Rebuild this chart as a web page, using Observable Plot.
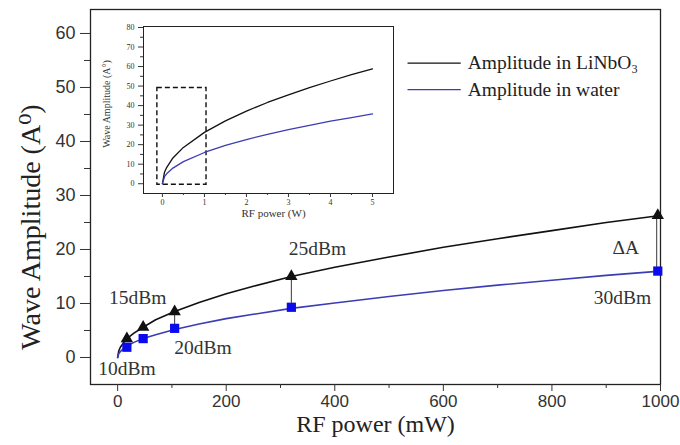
<!DOCTYPE html>
<html><head><meta charset="utf-8">
<script src="https://cdn.jsdelivr.net/npm/d3@7"></script>
<script src="https://cdn.jsdelivr.net/npm/@observablehq/plot@0.6"></script>
<style>
body{margin:0;background:#fff}
#wrap{position:relative;width:680px;height:445px}
#inset{position:absolute;left:95px;top:20px}
</style>
</head><body>
<div id="wrap"><div id="main"></div><div id="inset"></div></div>
<script>
// ---- data ----
const curvePowerMW = [0, 2, 5, 10, 17, 30, 47, 70, 105, 150, 200, 250, 320, 400, 500, 600, 700, 800, 900, 1000];
const curveLiNbO3  = [0, 1.2, 1.9, 2.6, 3.5, 4.5, 5.6, 7.0, 8.5, 10.2, 11.8, 13.2, 15.0, 16.7, 18.6, 20.4, 22.0, 23.5, 25.0, 26.3];
const curveWater   = [0, 0.7, 1.1, 1.6, 2.1, 2.8, 3.5, 4.2, 5.2, 6.2, 7.2, 8.0, 9.1, 10.1, 11.3, 12.4, 13.4, 14.3, 15.2, 16.0];

const markerPowerMW = [17, 47, 105, 320, 995];
const markerLiNbO3  = [3.5, 5.6, 8.5, 15.0, 26.3];
const markerWater   = [1.9, 3.5, 5.4, 9.3, 16.0];

const insetPowerW  = [0, 0.05, 0.1, 0.25, 0.5, 1, 1.5, 2, 2.5, 3, 3.5, 4, 4.5, 5];
const insetLiNbO3  = [0, 5.9, 8.3, 13.2, 18.6, 26.3, 32.2, 37.2, 41.6, 45.5, 49.2, 52.6, 55.8, 58.8];
const insetWater   = [0, 3.6, 5.1, 8.0, 11.3, 16.0, 19.6, 22.6, 25.3, 27.7, 29.9, 32.0, 33.9, 35.8];

const xTicksMain = [0, 200, 400, 600, 800, 1000];
const xMinorMain = [100, 300, 500, 700, 900];
const yTicksMain = [0, 10, 20, 30, 40, 50, 60];
const yMinorMain = [5, 15, 25, 35, 45, 55];
const xTicksInset = [0, 1, 2, 3, 4, 5];
const xMinorInset = [0.5, 1.5, 2.5, 3.5, 4.5];
const yTicksInset = [0, 10, 20, 30, 40, 50, 60, 70, 80];
const yMinorInset = [5, 15, 25, 35, 45, 55, 65, 75];

const seriesNames = ["Amplitude in LiNbO\u2083", "Amplitude in water"];

// annotations (data coordinates)
const dBmLabels = ["10dBm", "15dBm", "20dBm", "25dBm", "30dBm"];
const dBmLabelX = [17, 37, 157, 368, 930];
const dBmLabelY = [-2.1, 11.1, 1.8, 20.2, 11.1];
const deltaArrowX = [105, 320, 993];
const deltaTop = [8.1, 14.5, 25.8];
const deltaBottom = [5.9, 9.9, 16.6];

// ---- styling ----
const SERIF = "'Liberation Serif', 'DejaVu Serif', serif";
const SANS = "'Liberation Sans', Arial, sans-serif";
const BLACK = "#111";
const BLUE_LINE = "#3c3cb4";
const BLUE_MARK = "#0a0aee";

const curve = curvePowerMW.map((x, i) => ({x, a: curveLiNbO3[i], w: curveWater[i]}));
const marks = markerPowerMW.map((x, i) => ({x, a: markerLiNbO3[i], w: markerWater[i]}));
const ann = dBmLabels.map((t, i) => ({t, x: dBmLabelX[i], y: dBmLabelY[i]}));
const arrows = deltaArrowX.map((x, i) => ({x, y1: deltaTop[i], y2: deltaBottom[i]}));
const legend = seriesNames.map((name, i) => ({name, x1: 534, x2: 632, y: [54.5, 49.6][i], c: [BLACK, BLUE_LINE][i]}));

const main = Plot.plot({
  width: 680, height: 445,
  marginLeft: 90, marginRight: 20, marginTop: 9, marginBottom: 61,
  x: {domain: [-50, 1000]},
  y: {domain: [-5, 64.44]},
  style: {fontFamily: SANS, background: "transparent", color: "#333", overflow: "visible"},
  marks: [
    Plot.frame({stroke: "#222", strokeWidth: 1.3}),
    Plot.axisY(yTicksMain, {tickSize: 10, tickPadding: 5, fontSize: 18, label: null, stroke: "#333"}),
    Plot.axisY(yMinorMain, {tickSize: 6, text: null, label: null, stroke: "#333"}),
    Plot.axisX(xTicksMain, {tickSize: 7, tickPadding: 3, fontSize: 17, label: null, stroke: "#333", tickFormat: d => String(d)}),
    Plot.axisX(xMinorMain, {tickSize: 4, text: null, label: null, stroke: "#333"}),
    Plot.text(["Wave Amplitude (A\u2070)"], {frameAnchor: "left", textAnchor: "middle", rotate: -90, dx: -59, dy: 30, fontFamily: SERIF, fontSize: 28, fill: "#222"}),
    Plot.text(["RF power (mW)"], {frameAnchor: "bottom", textAnchor: "middle", dy: 47, fontFamily: SERIF, fontSize: 24, fill: "#222"}),
    Plot.line(curve, {x: "x", y: "a", stroke: BLACK, strokeWidth: 1.6}),
    Plot.line(curve, {x: "x", y: "w", stroke: BLUE_LINE, strokeWidth: 1.6}),
    Plot.link(arrows, {x1: "x", x2: "x", y1: "y1", y2: "y2", stroke: "#222", strokeWidth: 0.9, markerStart: "arrow", markerEnd: "arrow"}),
    Plot.dot(marks, {x: "x", y: "a", symbol: "triangle", r: 4.6, fill: BLACK, stroke: null}),
    Plot.dot(marks, {x: "x", y: "w", symbol: "square", r: 5.2, fill: BLUE_MARK, stroke: null}),
    Plot.text(ann, {x: "x", y: "y", text: "t", fontFamily: SERIF, fontSize: 19.5, fill: "#333"}),
    Plot.text(["\u0394A"], {x: 936, y: 20.4, fontFamily: SERIF, fontSize: 19.5, fill: "#333"}),
    Plot.link(legend, {x1: "x1", x2: "x2", y1: "y", y2: "y", stroke: "c", strokeWidth: 1.2}),
    Plot.text(legend, {x: 645, y: "y", text: "name", textAnchor: "start", fontFamily: SERIF, fontSize: 19.5, fill: "#222"})
  ]
});
document.getElementById("main").append(main);

const icurve = insetPowerW.map((x, i) => ({x, a: insetLiNbO3[i], w: insetWater[i]}));

const inset = Plot.plot({
  width: 305, height: 210,
  marginLeft: 48, marginRight: 7, marginTop: 6, marginBottom: 37,
  x: {domain: [-0.45, 5.5]},
  y: {domain: [-5, 80.5]},
  style: {fontFamily: SERIF, background: "transparent", color: "#333"},
  marks: [
    Plot.frame({stroke: "#222", strokeWidth: 1}),
    Plot.axisY(yTicksInset, {tickSize: 5, tickPadding: 4, fontSize: 8, label: null}),
    Plot.axisY(yMinorInset, {tickSize: 3, text: null, label: null}),
    Plot.axisX(xTicksInset, {tickSize: 4, tickPadding: 2, fontSize: 8, label: null}),
    Plot.axisX(xMinorInset, {tickSize: 2, text: null, label: null}),
    Plot.rect([0], {x1: -0.12, x2: 1.05, y1: -0.5, y2: 49, fill: "none", stroke: "#111", strokeWidth: 1.4, strokeDasharray: "5,3"}),
    Plot.line(icurve, {x: "x", y: "a", stroke: BLACK, strokeWidth: 1.3}),
    Plot.line(icurve, {x: "x", y: "w", stroke: BLUE_LINE, strokeWidth: 1.3}),
    Plot.text(["Wave Amplitude (A\u00b0)"], {frameAnchor: "left", textAnchor: "middle", rotate: -90, dx: -37, dy: -6, fontSize: 10, fill: "#333"}),
    Plot.text(["RF power (W)"], {frameAnchor: "bottom", textAnchor: "middle", dx: 5, dy: 23, fontSize: 11, fill: "#333"})
  ]
});
document.getElementById("inset").append(inset);
</script>
</body></html>
